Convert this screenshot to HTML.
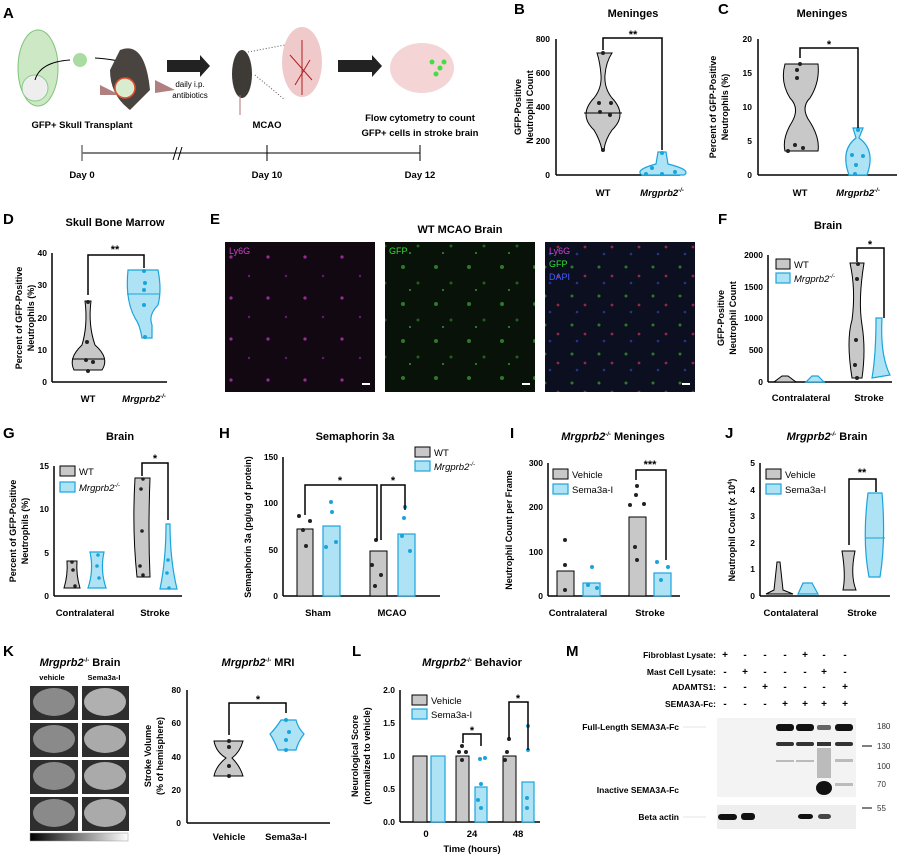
<!DOCTYPE html>
<html><head><meta charset="utf-8"><style>
html,body{margin:0;padding:0;background:#fff}
svg{display:block;font-family:"Liberation Sans",Arial,sans-serif}
.L{font-size:15px;font-weight:bold}
.t{font-size:11px;font-weight:bold;text-anchor:middle}
.ax{stroke:#000;stroke-width:1.5;fill:none}
.yl{font-size:9px;font-weight:bold;text-anchor:middle}
.tk{font-size:8.5px;font-weight:bold;text-anchor:end}
.xl{font-size:9.5px;font-weight:bold;text-anchor:middle}
.g{fill:#c8c8c8;stroke:#000;stroke-width:1}
.b{fill:#aee3f5;stroke:#1aa4dc;stroke-width:1.2}
.lg{font-size:9.5px}
</style></head><body>
<svg width="899" height="857" viewBox="0 0 899 857">
<!-- A -->
<text x="3" y="18" class="L">A</text>
<ellipse cx="38" cy="68" rx="20" ry="38" fill="#cde8c4" stroke="#7fc47a"/>
<circle cx="35" cy="88" r="13" fill="#eee" stroke="#8c8"/>
<circle cx="80" cy="60" r="7" fill="#a8dca0"/>
<path d="M35 80 Q40 62 70 60" stroke="#000" fill="none"/>
<path d="M95 58 Q130 60 138 72" stroke="#000" fill="none"/>
<path d="M120 50 Q145 40 150 90 L130 110 Q110 95 110 70Z" fill="#4a4440"/>
<path d="M100 85 L120 95 L100 95Z M155 80 L175 90 L155 93Z" fill="#b08080"/>
<circle cx="125" cy="88" r="10" fill="#d8ecd0" stroke="#e05030" stroke-width="1.5"/>
<polygon points="167,60 200,60 200,55 210,66 200,77 200,72 167,72" fill="#222"/>
<text x="190" y="87" font-size="8" text-anchor="middle">daily i.p.</text>
<text x="190" y="98" font-size="8" text-anchor="middle">antibiotics</text>
<ellipse cx="242" cy="74" rx="10" ry="24" fill="#3e3a36"/>
<line x1="240" y1="95" x2="240" y2="115" stroke="#b07070"/>
<line x1="248" y1="52" x2="285" y2="45" stroke="#555" stroke-dasharray="1,2"/>
<line x1="255" y1="75" x2="285" y2="100" stroke="#555" stroke-dasharray="1,2"/>
<ellipse cx="302" cy="62" rx="20" ry="35" fill="#f0caca"/>
<path d="M302 40 L302 95 M290 55 L312 80 M295 85 L310 60" stroke="#b02020"/>
<polygon points="338,60 372,60 372,55 382,66 372,77 372,72 338,72" fill="#222"/>
<ellipse cx="422" cy="68" rx="32" ry="25" fill="#f4d4d4"/>
<g fill="#44dd44"><circle cx="432" cy="62" r="2.5"/><circle cx="440" cy="68" r="2.5"/><circle cx="436" cy="74" r="2.5"/><circle cx="444" cy="62" r="2.5"/></g>
<text x="82" y="128" class="xl" font-size="10">GFP+ Skull Transplant</text>
<text x="267" y="128" class="xl" font-size="10">MCAO</text>
<text x="420" y="121" class="xl" font-size="10">Flow cytometry to count</text>
<text x="420" y="136" class="xl" font-size="10">GFP+ cells in stroke brain</text>
<line x1="82" y1="153" x2="420" y2="153" stroke="#000"/>
<line x1="82" y1="145" x2="82" y2="161" stroke="#777" stroke-width="1.5"/>
<line x1="267" y1="145" x2="267" y2="161" stroke="#000"/>
<line x1="420" y1="145" x2="420" y2="161" stroke="#000"/>
<path d="M173 160 L177 147 M178 160 L182 147" stroke="#000"/>
<text x="82" y="178" class="xl" font-size="8.5">Day 0</text>
<text x="267" y="178" class="xl" font-size="8.5">Day 10</text>
<text x="420" y="178" class="xl" font-size="8.5">Day 12</text>

<!-- B -->
<text x="514" y="14" class="L">B</text>
<text x="633" y="17" class="t">Meninges</text>
<line x1="556" y1="39" x2="556" y2="175" class="ax"/>
<line x1="556" y1="175" x2="680" y2="175" class="ax"/>
<g class="tk"><text x="550" y="42">800</text><text x="550" y="76">600</text><text x="550" y="110">400</text><text x="550" y="144">200</text><text x="550" y="178">0</text></g>
<text transform="translate(521,107) rotate(-90)" class="yl">GFP-Positive</text>
<text transform="translate(533,107) rotate(-90)" class="yl">Neutrophil Count</text>
<path class="g" d="M597 53 L612 53 Q606 62 605 75 Q604 88 612 98 Q628 115 612 130 Q605 140 604 150 L602 150 Q600 140 594 130 Q578 115 594 98 Q602 88 601 75 Q600 62 597 53Z"/>
<line x1="584" y1="113" x2="622" y2="113" stroke="#000"/>
<path class="b" d="M658 152 L666 152 L668 164 Q692 170 684 175 L642 175 Q634 170 656 164Z"/>
<g fill="#222"><circle cx="603" cy="53" r="2"/><circle cx="599" cy="103" r="2"/><circle cx="611" cy="103" r="2"/><circle cx="600" cy="112" r="2"/><circle cx="610" cy="115" r="2"/><circle cx="603" cy="150" r="2"/></g>
<g fill="#1aa4dc"><circle cx="662" cy="153" r="2"/><circle cx="652" cy="168" r="2"/><circle cx="646" cy="174" r="2"/><circle cx="662" cy="174" r="2"/><circle cx="675" cy="172" r="2"/></g>
<path d="M603 50 V38 H662 V150" class="ax"/><text x="633" y="38" class="t" font-size="14">**</text>
<text x="603" y="196" class="xl">WT</text><text x="662" y="196" class="xl" font-style="italic">Mrgprb2<tspan font-size="6" dy="-4">-/-</tspan></text>

<!-- C -->
<text x="718" y="14" class="L">C</text>
<text x="822" y="17" class="t">Meninges</text>
<line x1="758" y1="39" x2="758" y2="175" class="ax"/>
<line x1="758" y1="175" x2="897" y2="175" class="ax"/>
<g class="tk"><text x="752" y="42">20</text><text x="752" y="76">15</text><text x="752" y="110">10</text><text x="752" y="144">5</text><text x="752" y="178">0</text></g>
<text transform="translate(716,107) rotate(-90)" class="yl">Percent of GFP-Positive</text>
<text transform="translate(728,107) rotate(-90)" class="yl">Neutrophils (%)</text>
<path class="g" d="M785 64 H818 Q820 82 810 98 Q800 108 810 122 Q820 138 818 151 H785 Q782 138 792 122 Q800 108 790 98 Q780 82 785 64Z"/>
<path class="b" d="M853 128 H863 L859 138 Q876 150 867 175 H849 Q840 150 856 138Z"/>
<g fill="#222"><circle cx="800" cy="64" r="2"/><circle cx="797" cy="70" r="2"/><circle cx="797" cy="78" r="2"/><circle cx="795" cy="145" r="2"/><circle cx="803" cy="148" r="2"/><circle cx="788" cy="151" r="2"/></g>
<g fill="#1aa4dc"><circle cx="858" cy="130" r="2"/><circle cx="852" cy="155" r="2"/><circle cx="863" cy="156" r="2"/><circle cx="856" cy="165" r="2"/><circle cx="855" cy="174" r="2"/></g>
<path d="M800 58 V48 H858 V128" class="ax"/><text x="829" y="48" class="t" font-size="14">*</text>
<text x="800" y="196" class="xl" font-size="8.5">WT</text><text x="858" y="196" class="xl" font-style="italic">Mrgprb2<tspan font-size="6" dy="-4">-/-</tspan></text>

<!-- D -->
<text x="3" y="224" class="L">D</text>
<text x="115" y="226" class="t">Skull Bone Marrow</text>
<line x1="52" y1="253" x2="52" y2="382" class="ax"/><line x1="52" y1="382" x2="167" y2="382" class="ax"/>
<g class="tk"><text x="47" y="256">40</text><text x="47" y="288">30</text><text x="47" y="321">20</text><text x="47" y="353">10</text><text x="47" y="385">0</text></g>
<text transform="translate(22,318) rotate(-90)" class="yl">Percent of GFP-Positive</text>
<text transform="translate(34,318) rotate(-90)" class="yl">Neutrophils (%)</text>
<path class="g" d="M85 301 L91 301 Q88 325 95 345 Q110 358 102 370 L74 370 Q68 358 82 345 Q88 325 85 301Z"/>
<line x1="72" y1="359" x2="105" y2="359" stroke="#000"/>
<path class="b" d="M128 270 L158 270 Q162 290 158 305 Q148 315 152 325 L152 338 L142 338 Q140 325 135 318 Q125 300 128 270Z"/>
<line x1="127" y1="294" x2="160" y2="294" stroke="#1aa4dc"/>
<g fill="#222"><circle cx="88" cy="302" r="2"/><circle cx="87" cy="342" r="2"/><circle cx="86" cy="360" r="2"/><circle cx="93" cy="362" r="2"/><circle cx="88" cy="371" r="2"/></g>
<g fill="#1aa4dc"><circle cx="144" cy="271" r="2"/><circle cx="145" cy="283" r="2"/><circle cx="144" cy="290" r="2"/><circle cx="144" cy="305" r="2"/><circle cx="145" cy="337" r="2"/></g>
<path d="M88 295 V255 H144 V268" class="ax"/><text x="115" y="253" class="t" font-size="14">**</text>
<text x="88" y="402" class="xl">WT</text><text x="144" y="402" class="xl" font-style="italic">Mrgprb2<tspan font-size="6" dy="-4">-/-</tspan></text>

<!-- E -->
<text x="210" y="224" class="L">E</text>
<text x="460" y="233" class="t" font-size="10">WT MCAO Brain</text>
<defs>
<pattern id="pm" width="37" height="41" patternUnits="userSpaceOnUse"><rect width="37" height="41" fill="#120812"/><circle cx="9" cy="11" r="1.6" fill="#9a2a9a"/><circle cx="27" cy="30" r="1.2" fill="#6a1a70"/></pattern>
<pattern id="pg" width="33" height="37" patternUnits="userSpaceOnUse"><rect width="33" height="37" fill="#081208"/><circle cx="7" cy="8" r="2" fill="#2a7a2a"/><circle cx="22" cy="24" r="1.5" fill="#1f5f1f"/><circle cx="14" cy="31" r="1" fill="#3a903a"/></pattern>
<pattern id="pc" width="27" height="29" patternUnits="userSpaceOnUse"><rect width="27" height="29" fill="#0c0f20"/><circle cx="5" cy="6" r="1.5" fill="#2a7a2a"/><circle cx="18" cy="15" r="1.4" fill="#902848"/><circle cx="10" cy="22" r="1.3" fill="#22358a"/></pattern>
</defs>
<rect x="225" y="242" width="150" height="150" fill="url(#pm)"/>
<rect x="385" y="242" width="150" height="150" fill="url(#pg)"/>
<rect x="545" y="242" width="150" height="150" fill="url(#pc)"/>
<text x="229" y="254" font-size="9" fill="#d040d0">Ly6G</text>
<text x="389" y="254" font-size="9" fill="#30e030">GFP</text>
<text x="549" y="254" font-size="9" fill="#d040d0">Ly6G</text>
<text x="549" y="267" font-size="9" fill="#30e030">GFP</text>
<text x="549" y="280" font-size="9" fill="#4060ff">DAPI</text>
<g stroke="#fff" stroke-width="2"><line x1="362" y1="384" x2="370" y2="384"/><line x1="522" y1="384" x2="530" y2="384"/><line x1="682" y1="384" x2="690" y2="384"/></g>

<!-- F -->
<text x="718" y="224" class="L">F</text>
<text x="828" y="229" class="t" font-size="10">Brain</text>
<line x1="768" y1="255" x2="768" y2="382" class="ax"/><line x1="768" y1="382" x2="892" y2="382" class="ax"/>
<g class="tk"><text x="763" y="258">2000</text><text x="763" y="290">1500</text><text x="763" y="321">1000</text><text x="763" y="353">500</text><text x="763" y="385">0</text></g>
<text transform="translate(724,318) rotate(-90)" class="yl">GFP-Positive</text>
<text transform="translate(736,318) rotate(-90)" class="yl">Neutrophil Count</text>
<rect x="776" y="259" width="14" height="10" class="g"/><text x="794" y="268" class="lg">WT</text>
<rect x="776" y="273" width="14" height="10" class="b"/><text x="794" y="282" class="lg" font-style="italic">Mrgprb2<tspan font-size="6" dy="-4">-/-</tspan></text>
<path class="g" d="M782 376 L788 376 L796 382 L774 382Z"/>
<path class="b" d="M812 376 L818 376 L824 382 L806 382Z"/>
<path class="g" d="M850 263 L864 263 Q858 300 862 325 Q866 350 862 378 L852 378 Q846 340 852 320 Q856 290 850 263Z"/>
<path class="b" d="M876 318 L882 318 Q880 355 890 375 L872 378 Q876 355 876 318Z"/>
<g fill="#222"><circle cx="858" cy="264" r="2"/><circle cx="857" cy="279" r="2"/><circle cx="856" cy="340" r="2"/><circle cx="855" cy="365" r="2"/><circle cx="857" cy="378" r="2"/></g>
<path d="M857 262 V248 H884 V318" class="ax"/><text x="870" y="248" class="t" font-size="14">*</text>
<text x="801" y="401" class="xl">Contralateral</text><text x="869" y="401" class="xl">Stroke</text>

<!-- G -->
<text x="3" y="438" class="L">G</text>
<text x="120" y="440" class="t" font-size="10">Brain</text>
<line x1="54" y1="466" x2="54" y2="596" class="ax"/><line x1="54" y1="596" x2="182" y2="596" class="ax"/>
<g class="tk"><text x="49" y="469">15</text><text x="49" y="512">10</text><text x="49" y="556">5</text><text x="49" y="599">0</text></g>
<text transform="translate(16,531) rotate(-90)" class="yl">Percent of GFP-Positive</text>
<text transform="translate(28,531) rotate(-90)" class="yl">Neutrophils (%)</text>
<rect x="60" y="466" width="15" height="10" class="g"/><text x="79" y="475" class="lg">WT</text>
<rect x="60" y="482" width="15" height="10" class="b"/><text x="79" y="491" class="lg" font-style="italic">Mrgprb2<tspan font-size="6" dy="-4">-/-</tspan></text>
<path class="g" d="M67 561 L77 561 Q76 575 80 588 L64 588 Q68 575 67 561Z"/>
<path class="b" d="M90 552 L104 552 Q100 570 106 588 L88 588 Q94 570 90 552Z"/>
<path class="g" d="M135 478 L150 478 Q148 530 150 577 L137 577 Q132 530 135 478Z"/>
<path class="b" d="M166 524 L170 524 Q170 560 177 589 L160 589 Q166 560 166 524Z"/>
<g fill="#222"><circle cx="72" cy="562" r="1.8"/><circle cx="73" cy="570" r="1.8"/><circle cx="75" cy="586" r="1.8"/><circle cx="143" cy="479" r="1.8"/><circle cx="141" cy="489" r="1.8"/><circle cx="142" cy="531" r="1.8"/><circle cx="140" cy="566" r="1.8"/><circle cx="143" cy="575" r="1.8"/></g>
<g fill="#1aa4dc"><circle cx="98" cy="555" r="1.8"/><circle cx="97" cy="566" r="1.8"/><circle cx="99" cy="578" r="1.8"/><circle cx="168" cy="560" r="1.8"/><circle cx="167" cy="573" r="1.8"/><circle cx="169" cy="588" r="1.8"/></g>
<path d="M142 476 V463 H168 V520" class="ax"/><text x="155" y="462" class="t" font-size="14">*</text>
<text x="85" y="616" class="xl">Contralateral</text><text x="155" y="616" class="xl">Stroke</text>

<!-- H -->
<text x="219" y="438" class="L">H</text>
<text x="355" y="440" class="t" font-size="10">Semaphorin 3a</text>
<line x1="283" y1="457" x2="283" y2="596" class="ax"/><line x1="283" y1="596" x2="440" y2="596" class="ax"/>
<g class="tk"><text x="278" y="460">150</text><text x="278" y="506">100</text><text x="278" y="553">50</text><text x="278" y="599">0</text></g>
<text transform="translate(251,527) rotate(-90)" class="yl">Semaphorin 3a (pg/ug of protein)</text>
<rect x="415" y="447" width="15" height="10" class="g"/><text x="434" y="456" class="lg">WT</text>
<rect x="415" y="461" width="15" height="10" class="b"/><text x="434" y="470" class="lg" font-style="italic">Mrgprb2<tspan font-size="6" dy="-4">-/-</tspan></text>
<rect x="297" y="529" width="16" height="67" class="g"/>
<rect x="323" y="526" width="17" height="70" class="b"/>
<rect x="370" y="551" width="17" height="45" class="g"/>
<rect x="398" y="534" width="17" height="62" class="b"/>
<g fill="#222"><circle cx="299" cy="516" r="2"/><circle cx="310" cy="521" r="2"/><circle cx="303" cy="530" r="2"/><circle cx="306" cy="546" r="2"/><circle cx="376" cy="540" r="2"/><circle cx="372" cy="565" r="2"/><circle cx="381" cy="575" r="2"/><circle cx="375" cy="586" r="2"/></g>
<g fill="#1aa4dc"><circle cx="331" cy="502" r="2"/><circle cx="332" cy="512" r="2"/><circle cx="326" cy="547" r="2"/><circle cx="336" cy="542" r="2"/><circle cx="405" cy="507" r="2"/><circle cx="404" cy="518" r="2"/><circle cx="402" cy="536" r="2"/><circle cx="410" cy="551" r="2"/></g>
<path d="M305 515 V485 H377 V540" class="ax"/><text x="340" y="484" class="t" font-size="14">*</text>
<path d="M381 540 V485 H405 V510" class="ax" /><text x="393" y="484" class="t" font-size="14">*</text>
<text x="318" y="616" class="xl">Sham</text><text x="392" y="616" class="xl">MCAO</text>

<!-- I -->
<text x="510" y="438" class="L">I</text>
<text x="613" y="440" class="t" font-size="10" font-style="italic">Mrgprb2<tspan font-size="6" dy="-4">-/-</tspan><tspan dy="4" font-style="normal"> Meninges</tspan></text>
<line x1="548" y1="463" x2="548" y2="596" class="ax"/><line x1="548" y1="596" x2="680" y2="596" class="ax"/>
<g class="tk"><text x="543" y="466">300</text><text x="543" y="510">200</text><text x="543" y="555">100</text><text x="543" y="599">0</text></g>
<text transform="translate(512,530) rotate(-90)" class="yl">Neutrophil Count per Frame</text>
<rect x="553" y="469" width="15" height="10" class="g"/><text x="572" y="478" class="lg">Vehicle</text>
<rect x="553" y="484" width="15" height="10" class="b"/><text x="572" y="493" class="lg">Sema3a-I</text>
<rect x="557" y="571" width="17" height="25" class="g"/><rect x="583" y="583" width="17" height="13" class="b"/>
<rect x="629" y="517" width="17" height="79" class="g"/><rect x="654" y="573" width="17" height="23" class="b"/>
<g fill="#222"><circle cx="565" cy="540" r="2"/><circle cx="565" cy="565" r="2"/><circle cx="565" cy="590" r="2"/><circle cx="637" cy="486" r="2"/><circle cx="636" cy="495" r="2"/><circle cx="630" cy="505" r="2"/><circle cx="644" cy="504" r="2"/><circle cx="635" cy="547" r="2"/><circle cx="637" cy="560" r="2"/></g>
<g fill="#1aa4dc"><circle cx="592" cy="567" r="2"/><circle cx="588" cy="585" r="2"/><circle cx="597" cy="588" r="2"/><circle cx="657" cy="562" r="2"/><circle cx="668" cy="567" r="2"/><circle cx="661" cy="580" r="2"/></g>
<path d="M636 480 V470 H666 V560" class="ax"/><text x="650" y="468" class="t" font-size="13">***</text>
<text x="578" y="616" class="xl">Contralateral</text><text x="650" y="616" class="xl">Stroke</text>

<!-- J -->
<text x="725" y="438" class="L">J</text>
<text x="827" y="440" class="t" font-size="10" font-style="italic">Mrgprb2<tspan font-size="6" dy="-4">-/-</tspan><tspan dy="4" font-style="normal"> Brain</tspan></text>
<line x1="760" y1="463" x2="760" y2="596" class="ax"/><line x1="760" y1="596" x2="890" y2="596" class="ax"/>
<g class="tk"><text x="755" y="466">5</text><text x="755" y="493">4</text><text x="755" y="519">3</text><text x="755" y="546">2</text><text x="755" y="572">1</text><text x="755" y="599">0</text></g>
<text transform="translate(735,530) rotate(-90)" class="yl">Neutrophil Count (x 10<tspan font-size="6" dy="-3">4</tspan><tspan dy="3">)</tspan></text>
<rect x="766" y="469" width="15" height="10" class="g"/><text x="785" y="478" class="lg">Vehicle</text>
<rect x="766" y="484" width="15" height="10" class="b"/><text x="785" y="493" class="lg">Sema3a-I</text>
<path class="g" d="M777 562 L780 562 L783 590 L793 594 L766 594 L774 590Z"/>
<path class="b" d="M803 583 L812 583 L818 594 L798 594Z"/>
<path class="g" d="M842 551 L855 551 Q850 575 856 590 L843 590 Q846 575 842 551Z"/>
<path class="b" d="M868 493 L882 493 Q886 540 880 577 L869 577 Q862 540 868 493Z"/>
<line x1="865" y1="538" x2="885" y2="538" stroke="#1aa4dc"/>
<path d="M849 545 V479 H876 V492" class="ax"/><text x="862" y="476" class="t" font-size="14">**</text>
<text x="791" y="616" class="xl">Contalateral</text><text x="862" y="616" class="xl">Stroke</text>

<!-- K -->
<text x="3" y="656" class="L">K</text>
<text x="80" y="666" class="t" font-size="10"><tspan font-style="italic">Mrgprb2</tspan><tspan font-size="6" dy="-4">-/-</tspan><tspan dy="4"> Brain</tspan></text>
<text x="52" y="680" font-size="7.5" text-anchor="middle" font-weight="bold">vehicle</text>
<text x="104" y="680" font-size="7.5" text-anchor="middle" font-weight="bold">Sema3a-I</text>
<g fill="#2e2e2e"><rect x="30" y="686" width="48" height="34"/><rect x="82" y="686" width="47" height="34"/><rect x="30" y="723" width="48" height="34"/><rect x="82" y="723" width="47" height="34"/><rect x="30" y="760" width="48" height="34"/><rect x="82" y="760" width="47" height="34"/><rect x="30" y="797" width="48" height="34"/><rect x="82" y="797" width="47" height="34"/></g>
<g fill="#8a8a8a"><ellipse cx="54" cy="702" rx="21" ry="14"/><ellipse cx="105" cy="702" rx="21" ry="14" fill="#b0b0b0"/><ellipse cx="54" cy="739" rx="21" ry="14"/><ellipse cx="105" cy="739" rx="21" ry="14" fill="#aaa"/><ellipse cx="54" cy="776" rx="21" ry="14"/><ellipse cx="105" cy="776" rx="21" ry="14" fill="#aaa"/><ellipse cx="54" cy="813" rx="21" ry="14"/><ellipse cx="105" cy="813" rx="21" ry="14" fill="#aaa"/></g>
<defs><linearGradient id="cb"><stop offset="0" stop-color="#000"/><stop offset="1" stop-color="#fff"/></linearGradient></defs>
<rect x="30" y="833" width="98" height="8" fill="url(#cb)" stroke="#999" stroke-width=".5"/>
<text x="258" y="666" class="t" font-size="10"><tspan font-style="italic">Mrgprb2</tspan><tspan font-size="6" dy="-4">-/-</tspan><tspan dy="4"> MRI</tspan></text>
<line x1="187" y1="690" x2="187" y2="823" class="ax"/><line x1="187" y1="823" x2="330" y2="823" class="ax" stroke-width="2.5"/>
<g class="tk"><text x="181" y="693">80</text><text x="181" y="726">60</text><text x="181" y="760">40</text><text x="181" y="793">20</text><text x="181" y="826">0</text></g>
<text transform="translate(151,756) rotate(-90)" class="yl">Stroke Volume</text>
<text transform="translate(163,756) rotate(-90)" class="yl">(% of hemisphere)</text>
<path class="g" d="M214 741 L243 741 Q240 752 232 758 Q240 766 243 776 L214 776 Q216 766 226 758 Q216 752 214 741Z"/>
<path class="b" d="M281 720 L296 720 Q298 728 304 734 Q298 742 296 750 L278 750 Q274 740 270 734 Q276 728 281 720Z"/>
<g fill="#222"><circle cx="229" cy="741" r="2"/><circle cx="229" cy="747" r="2"/><circle cx="229" cy="766" r="2"/><circle cx="229" cy="776" r="2"/></g>
<g fill="#1aa4dc"><circle cx="286" cy="720" r="2"/><circle cx="289" cy="732" r="2"/><circle cx="286" cy="740" r="2"/><circle cx="286" cy="750" r="2"/></g>
<path d="M229 735 V703 H286 V713" class="ax"/><text x="258" y="703" class="t" font-size="14">*</text>
<text x="229" y="840" class="xl">Vehicle</text><text x="286" y="840" class="xl">Sema3a-I</text>

<!-- L -->
<text x="352" y="656" class="L">L</text>
<text x="472" y="666" class="t" font-size="10"><tspan font-style="italic">Mrgprb2</tspan><tspan font-size="6" dy="-4">-/-</tspan><tspan dy="4"> Behavior</tspan></text>
<line x1="400" y1="690" x2="400" y2="822" class="ax"/><line x1="400" y1="822" x2="540" y2="822" class="ax"/>
<g class="tk"><text x="395" y="693">2.0</text><text x="395" y="726">1.5</text><text x="395" y="759">1.0</text><text x="395" y="792">0.5</text><text x="395" y="825">0.0</text></g>
<text transform="translate(358,756) rotate(-90)" class="yl">Neurological Score</text>
<text transform="translate(370,756) rotate(-90)" class="yl">(normalized to vehicle)</text>
<rect x="412" y="695" width="15" height="10" class="g"/><text x="431" y="704" class="lg">Vehicle</text>
<rect x="412" y="709" width="15" height="10" class="b"/><text x="431" y="718" class="lg">Sema3a-I</text>
<rect x="413" y="756" width="14" height="66" class="g"/><rect x="431" y="756" width="14" height="66" class="b"/>
<rect x="456" y="756" width="13" height="66" class="g"/><rect x="475" y="787" width="12" height="35" class="b"/>
<rect x="503" y="756" width="13" height="66" class="g"/><rect x="522" y="782" width="12" height="40" class="b"/>
<g fill="#222"><circle cx="462" cy="746" r="2"/><circle cx="459" cy="752" r="2"/><circle cx="466" cy="752" r="2"/><circle cx="462" cy="760" r="2"/><circle cx="509" cy="739" r="2"/><circle cx="507" cy="752" r="2"/><circle cx="505" cy="760" r="2"/></g>
<g fill="#1aa4dc"><circle cx="480" cy="759" r="2"/><circle cx="485" cy="758" r="2"/><circle cx="481" cy="784" r="2"/><circle cx="478" cy="800" r="2"/><circle cx="481" cy="808" r="2"/><circle cx="528" cy="726" r="2"/><circle cx="528" cy="750" r="2"/><circle cx="527" cy="798" r="2"/><circle cx="527" cy="808" r="2"/></g>
<path d="M463 743 V734 H481 V746" class="ax"/><text x="472" y="734" class="t" font-size="14">*</text>
<path d="M509 738 V702 H528 V750" class="ax"/><text x="518" y="702" class="t" font-size="14">*</text>
<text x="426" y="837" class="xl">0</text><text x="472" y="837" class="xl">24</text><text x="518" y="837" class="xl">48</text>
<text x="472" y="852" class="xl">Time (hours)</text>

<!-- M -->
<text x="566" y="656" class="L">M</text>
<g font-size="8.5" font-weight="bold" text-anchor="end"><text x="716" y="658">Fibroblast Lysate:</text><text x="716" y="675">Mast Cell Lysate:</text><text x="716" y="690">ADAMTS1:</text><text x="716" y="707">SEMA3A-Fc:</text></g>
<g font-size="10" font-weight="bold" text-anchor="middle">
<text x="725" y="658">+</text><text x="745" y="658">-</text><text x="765" y="658">-</text><text x="785" y="658">-</text><text x="805" y="658">+</text><text x="824" y="658">-</text><text x="845" y="658">-</text>
<text x="725" y="675">-</text><text x="745" y="675">+</text><text x="765" y="675">-</text><text x="785" y="675">-</text><text x="805" y="675">-</text><text x="824" y="675">+</text><text x="845" y="675">-</text>
<text x="725" y="690">-</text><text x="745" y="690">-</text><text x="765" y="690">+</text><text x="785" y="690">-</text><text x="805" y="690">-</text><text x="824" y="690">-</text><text x="845" y="690">+</text>
<text x="725" y="707">-</text><text x="745" y="707">-</text><text x="765" y="707">-</text><text x="785" y="707">+</text><text x="805" y="707">+</text><text x="824" y="707">+</text><text x="845" y="707">+</text>
</g>
<rect x="717" y="718" width="139" height="79" fill="#f3f3f3"/>
<rect x="717" y="805" width="139" height="24" fill="#eeeeee"/>
<g fill="#111"><rect x="776" y="724" width="18" height="7" rx="3"/><rect x="796" y="724" width="18" height="7" rx="3"/><rect x="817" y="725" width="14" height="5" rx="2" fill="#666"/><rect x="835" y="724" width="18" height="7" rx="3"/>
<rect x="776" y="742" width="18" height="4" rx="2" fill="#333"/><rect x="796" y="742" width="18" height="4" rx="2" fill="#333"/><rect x="817" y="742" width="14" height="4" fill="#333"/><rect x="835" y="742" width="18" height="4" rx="2" fill="#333"/>
<ellipse cx="824" cy="788" rx="8" ry="7"/>
<rect x="718" y="814" width="19" height="6" rx="3"/><rect x="741" y="813" width="14" height="7" rx="3"/><rect x="798" y="814" width="15" height="5" rx="3"/><rect x="818" y="814" width="13" height="5" rx="3" fill="#444"/></g>
<g fill="#bbb"><rect x="776" y="760" width="18" height="2"/><rect x="796" y="760" width="18" height="2"/><rect x="835" y="759" width="18" height="3"/><rect x="835" y="783" width="18" height="3"/><rect x="817" y="748" width="14" height="30"/></g>
<g font-size="8.5" font-weight="bold" text-anchor="end"><text x="679" y="730">Full-Length SEMA3A-Fc</text><text x="679" y="793">Inactive SEMA3A-Fc</text><text x="679" y="820">Beta actin</text></g>
<g stroke="#ccc" stroke-width=".6"><line x1="683" y1="727" x2="706" y2="727"/><line x1="683" y1="817" x2="706" y2="817"/></g>
<g font-size="8" text-anchor="start" fill="#333"><text x="877" y="729">180</text><text x="877" y="749">130</text><text x="877" y="769">100</text><text x="877" y="787">70</text><text x="877" y="811">55</text></g>
<g stroke="#000"><line x1="862" y1="746" x2="872" y2="746"/><line x1="862" y1="808" x2="872" y2="808"/></g>
</svg>
</body></html>
